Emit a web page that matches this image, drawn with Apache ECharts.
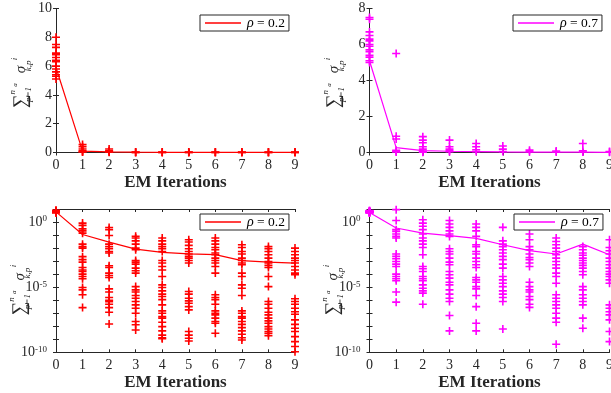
<!DOCTYPE html>
<html>
<head>
<meta charset="utf-8">
<script src="https://cdn.jsdelivr.net/npm/echarts@6/dist/echarts.min.js"></script>
<style>
  html, body { margin: 0; padding: 0; background: #fff; }
  #main { width: 611px; height: 393px; }
</style>
</head>
<body>
<div id="main"></div>
<script>
// EM iterations on the x axis
const iterations = [0, 1, 2, 3, 4, 5, 6, 7, 8, 9];

// top row, linear scale: one list of values per iteration
const linRed = [
  [8.0, 7.5, 7.3, 6.9, 6.8, 6.6, 6.4, 6.3, 6.0, 5.8, 5.6, 5.4, 5.3, 5.1],
  [0.55, 0.4, 0.24, 0.12, 0.06, 0.03],
  [0.24, 0.12, 0.06, 0.02],
  [0.03, 0.01, 0.005],
  [0.03, 0.01, 0.005],
  [0.03, 0.01, 0.005],
  [0.03, 0.01, 0.005],
  [0.03, 0.01, 0.005],
  [0.03, 0.01, 0.005],
  [0.03, 0.01, 0.005]
];
const linRedMean = [5.9, 0.1, 0.05, 0.02, 0.01, 0.01, 0.01, 0.005, 0.005, 0.005];

const linMag = [
  [7.5, 7.4, 6.7, 6.5, 6.3, 6.2, 6.0, 5.9, 5.7, 5.6, 5.4, 5.3, 5.1, 5.0],
  [5.5, 0.9, 0.75, 0.12, 0.06, 0.03],
  [0.88, 0.69, 0.54, 0.32, 0.19, 0.06, 0.02],
  [0.69, 0.32, 0.19, 0.1, 0.04],
  [0.5, 0.32, 0.15, 0.05],
  [0.36, 0.19, 0.05],
  [0.13, 0.04],
  [0.08, 0.03],
  [0.5, 0.1, 0.03],
  [0.05, 0.01]
];
const linMagMean = [5.1, 0.27, 0.1, 0.07, 0.05, 0.03, 0.02, 0.02, 0.02, 0.01];

// bottom row, log scale
const logRed = [
  [8.0, 7.5, 7.3, 6.9, 6.8, 6.6, 6.4, 6.3, 6.0, 5.8, 5.6, 5.4, 5.3, 5.1],
  [0.83, 0.55, 0.30, 0.21, 0.14, 2.0e-2, 1.3e-2, 1.0e-2, 2.2e-3, 1.3e-3, 8.3e-4, 3.2e-4, 2.1e-4, 1.6e-4, 1.0e-4, 6.6e-5, 4.4e-5, 9.3e-6, 6.2e-6, 2.6e-6, 2.7e-7],
  [0.38, 0.26, 9.3e-2, 2.0e-2, 1.3e-2, 8.9e-3, 5.5e-3, 4.2e-3, 4.4e-4, 3.2e-4, 1.2e-4, 7.8e-5, 5.5e-5, 7.4e-6, 4.2e-6, 1.6e-6, 1.0e-6, 7.8e-7, 4.9e-7, 2.7e-7, 1.2e-7, 1.5e-8],
  [8.0e-2, 5.9e-2, 3.6e-2, 2.0e-2, 1.0e-2, 7.4e-3, 1.1e-3, 8.3e-4, 5.9e-4, 2.9e-4, 1.8e-4, 1.2e-4, 1.1e-5, 6.2e-6, 4.2e-6, 2.3e-6, 1.4e-6, 7.9e-7, 4.4e-7, 2.4e-7, 1.0e-7, 2.3e-8, 1.3e-8, 5.2e-9],
  [5.9e-2, 3.6e-2, 2.0e-2, 1.3e-2, 8.9e-3, 5.5e-3, 1.1e-3, 7.1e-4, 3.9e-4, 2.1e-4, 6.6e-5, 1.5e-5, 9.3e-6, 5.2e-6, 2.9e-6, 1.9e-6, 1.1e-6, 4.4e-7, 1.5e-7, 1.0e-7, 5.5e-8, 4.2e-8, 2.0e-8, 9.3e-9, 4.4e-9, 2.1e-9, 1.3e-9, 1.1e-9],
  [4.4e-2, 2.9e-2, 1.6e-2, 8.9e-3, 5.5e-3, 3.5e-3, 2.3e-3, 1.7e-3, 1.1e-3, 7.1e-4, 4.7e-6, 2.9e-6, 1.4e-6, 8.9e-7, 5.9e-7, 3.2e-7, 1.8e-7, 3.9e-9, 2.1e-9, 1.2e-9, 7.4e-10],
  [5.9e-2, 3.6e-2, 2.0e-2, 1.1e-2, 7.4e-3, 4.2e-3, 3.1e-3, 1.7e-3, 1.1e-3, 7.1e-4, 3.9e-4, 1.2e-4, 2.6e-6, 1.6e-6, 1.1e-6, 4.9e-7, 1.5e-7, 1.0e-7, 7.4e-8, 4.2e-8, 2.3e-8, 1.7e-8, 2.9e-9],
  [1.8e-2, 1.1e-2, 5.5e-3, 3.5e-3, 1.7e-3, 1.1e-3, 7.1e-4, 5.2e-4, 1.2e-4, 6.6e-5, 1.5e-5, 8.3e-6, 2.3e-6, 1.5e-7, 1.0e-7, 5.5e-8, 4.2e-8, 2.3e-8, 1.4e-8, 7.9e-9, 4.4e-9, 2.4e-9, 1.3e-9, 8.9e-10],
  [1.3e-2, 8.9e-3, 5.5e-3, 3.1e-3, 1.7e-3, 9.3e-4, 7.1e-4, 4.7e-4, 3.2e-4, 6.6e-5, 1.1e-5, 7.9e-7, 4.9e-7, 2.4e-7, 1.2e-7, 7.4e-8, 4.2e-8, 2.6e-8, 1.7e-8, 9.3e-9, 6.2e-9, 3.9e-9, 2.9e-9, 1.9e-9],
  [1.0e-2, 5.5e-3, 3.1e-3, 1.7e-3, 1.1e-3, 7.1e-4, 3.9e-4, 2.1e-4, 1.2e-4, 8.9e-5, 1.3e-6, 7.9e-7, 4.9e-7, 2.4e-7, 1.3e-7, 8.3e-8, 3.1e-8, 1.4e-8, 7.1e-9, 3.9e-9, 1.6e-9, 6.6e-10, 2.8e-10, 1.1e-10]
];
const logRedMean = [6.0, 0.11, 2.9e-2, 8.3e-3, 4.7e-3, 3.6e-3, 3.1e-3, 1.1e-3, 8.3e-4, 7.1e-4];

const logMag = [
  [7.5, 7.4, 6.7, 6.5, 6.3, 6.2, 6.0, 5.9, 5.7, 5.6, 5.4, 5.3, 5.1, 5.0],
  [8.9, 1.3, 0.26, 0.19, 0.12, 7.9e-2, 5.9e-2, 3.5e-3, 2.3e-3, 1.5e-3, 9.3e-4, 5.9e-4, 3.9e-4, 1.0e-4, 6.6e-5, 4.4e-5, 3.1e-5, 4.2e-6, 7.1e-7],
  [1.5, 0.83, 0.47, 0.26, 0.12, 5.9e-2, 3.6e-2, 2.0e-2, 1.1e-2, 3.1e-3, 3.9e-4, 2.6e-4, 1.6e-4, 6.6e-5, 4.4e-5, 3.1e-5, 1.5e-5, 8.3e-6, 5.2e-6, 3.5e-6, 4.9e-7],
  [1.3, 0.71, 0.39, 0.21, 0.12, 7.9e-2, 8.9e-3, 5.5e-3, 3.5e-3, 1.7e-3, 8.3e-4, 5.2e-4, 1.6e-4, 8.9e-5, 4.9e-5, 2.4e-5, 1.5e-5, 6.2e-6, 2.9e-6, 1.4e-6, 7.9e-7, 6.6e-8, 4.4e-9],
  [0.71, 0.39, 0.21, 7.9e-2, 1.8e-2, 1.3e-2, 5.5e-3, 3.5e-3, 1.7e-3, 9.3e-4, 5.2e-4, 3.2e-4, 5.5e-5, 3.6e-5, 2.4e-5, 1.1e-5, 7.4e-6, 2.3e-6, 3.2e-7, 1.7e-8, 4.4e-9],
  [0.39, 3.6e-2, 2.0e-2, 1.3e-2, 7.4e-3, 4.2e-3, 2.3e-3, 1.3e-3, 5.9e-4, 2.9e-4, 6.6e-5, 3.6e-5, 2.0e-5, 1.1e-5, 5.2e-6, 2.9e-6, 1.6e-6, 7.9e-7, 6.2e-9],
  [0.12, 4.4e-2, 1.3e-2, 7.4e-3, 3.5e-3, 1.9e-3, 1.3e-3, 7.1e-4, 3.9e-4, 2.4e-5, 1.1e-5, 6.2e-6, 4.2e-6, 1.9e-6, 1.1e-6, 4.9e-7, 2.8e-7],
  [5.9e-2, 3.2e-2, 1.8e-2, 1.0e-2, 5.5e-3, 3.1e-3, 1.7e-3, 9.3e-4, 5.2e-4, 2.9e-4, 1.2e-4, 6.6e-5, 2.0e-5, 2.6e-6, 1.4e-6, 7.9e-7, 4.4e-7, 2.4e-7, 1.0e-7, 4.2e-8, 2.0e-8, 4.2e-10],
  [1.3e-2, 7.4e-3, 4.2e-3, 2.8e-3, 1.7e-3, 1.1e-3, 7.1e-4, 4.7e-4, 2.9e-4, 1.6e-4, 8.9e-5, 1.1e-5, 6.2e-6, 2.6e-6, 1.4e-6, 7.9e-7, 4.4e-7, 4.2e-8, 7.1e-9],
  [4.4e-2, 1.1e-2, 6.2e-3, 3.5e-3, 1.7e-3, 9.3e-4, 5.2e-4, 2.9e-4, 1.6e-4, 1.0e-4, 6.6e-5, 3.6e-5, 2.0e-5, 4.4e-7, 2.4e-7, 1.3e-7, 7.4e-8, 3.1e-8, 3.9e-9, 6.6e-10]
];
const logMagMean = [5.3, 0.35, 0.14, 8.9e-2, 5.5e-2, 1.8e-2, 6.3e-3, 3.5e-3, 2.0e-2, 3.1e-3];

const RED = '#ff0000';
const MAG = '#ff00ff';
const AX = '#262626';
const SERIF = "'Liberation Serif', 'DejaVu Serif', serif";
const PLUS = 'path://M4,0L4,8M0,4L8,4';

const myChart = echarts.init(document.getElementById('main'));

function points(lists) {
  const out = [];
  lists.forEach(function (vals, i) {
    vals.forEach(function (v) { out.push([iterations[i], v]); });
  });
  return out;
}

// sum_{p=1}^{n_a} sigma^i_{k,p}, limits stacked by giving the lower one zero width
const yName = '{s|∑}{l0|p=1}{u|n}{ua|a}  {g|σ}{l0|k,p}{u2|i}';
const yNameRich = {
  s: { fontSize: 19, fontFamily: SERIF, lineHeight: 26, verticalAlign: 'middle', color: AX },
  l0: { fontSize: 9, fontFamily: SERIF, fontStyle: 'italic', width: 0, verticalAlign: 'bottom', color: AX, padding: [0, 0, 1, 0] },
  u: { fontSize: 9, fontFamily: SERIF, fontStyle: 'italic', verticalAlign: 'top', color: AX },
  ua: { fontSize: 7, fontFamily: SERIF, fontStyle: 'italic', verticalAlign: 'top', width: 10, color: AX, padding: [4, 0, 0, 0] },
  g: { fontSize: 15, fontFamily: SERIF, fontStyle: 'italic', verticalAlign: 'middle', color: AX },
  u2: { fontSize: 9, fontFamily: SERIF, fontStyle: 'italic', verticalAlign: 'top', width: 12, color: AX, padding: [2, 0, 0, 1] }
};

const grids = [
  { left: 56, top: 8.5, width: 239, height: 144 },
  { left: 369.5, top: 8.5, width: 240, height: 144 },
  { left: 56, top: 209, width: 239, height: 143.3 },
  { left: 369.5, top: 209, width: 240, height: 143.3 }
].map(function (g) {
  return Object.assign(g, { containLabel: false, outerBoundsMode: 'none' });
});

const xAxes = [];
const yAxes = [];
grids.forEach(function (g, gi) {
  const xBase = {
    gridIndex: gi, type: 'value', min: 0, max: 9, interval: 1,
    axisLine: { lineStyle: { color: AX, width: 1 } },
    axisTick: { inside: true, length: 3, lineStyle: { color: AX } },
    splitLine: { show: false }
  };
  xAxes.push(Object.assign({}, xBase, {
    position: 'bottom',
    axisLabel: { color: AX, fontFamily: SERIF, fontSize: 14, margin: 6 },
    name: 'EM Iterations', nameLocation: 'middle', nameGap: 22, nameMoveOverlap: false,
    nameTextStyle: { color: AX, fontFamily: SERIF, fontSize: 17, fontWeight: 'bold' }
  }));
  xAxes.push(Object.assign({}, xBase, { position: 'top', axisLabel: { show: false } }));

  let yBase;
  if (gi < 2) {
    yBase = { type: 'value', min: 0, max: gi === 0 ? 10 : 8, interval: 2 };
  } else {
    yBase = { type: 'log', logBase: 10, min: 1e-10, max: 10, interval: 1 };
  }
  Object.assign(yBase, {
    gridIndex: gi,
    axisLine: { show: true, lineStyle: { color: AX, width: 1 } },
    axisTick: { show: true, inside: true, length: 3, lineStyle: { color: AX } },
    splitLine: { show: false }
  });
  const labelFmt = gi < 2
    ? function (v) { return String(v); }
    : function (v) {
        const e = Math.round(Math.log10(v));
        return e % 5 === 0 ? '{b|10}{e|' + e + '}' : '';
      };
  yAxes.push(Object.assign({}, yBase, {
    position: 'left',
    axisLabel: {
      color: AX, fontFamily: SERIF, fontSize: 14, margin: gi < 2 ? 4 : 9,
      formatter: labelFmt,
      rich: {
        b: { fontFamily: SERIF, fontSize: 14, color: AX, verticalAlign: 'bottom' },
        e: { fontFamily: SERIF, fontSize: 9, color: AX, verticalAlign: 'top', padding: [0, 0, 6, 0] }
      }
    },
    name: yName, nameLocation: 'middle', nameRotate: 90, nameGap: gi < 2 ? 22 : 23,
    nameMoveOverlap: false,
    nameTextStyle: { rich: yNameRich, padding: gi < 2 ? 0 : [0, 14, 0, 0] }
  }));
  yAxes.push(Object.assign({}, yBase, { position: 'right', axisLabel: { show: false } }));
});

function scatterSeries(gi, lists, color) {
  return {
    type: 'scatter', xAxisIndex: 2 * gi, yAxisIndex: 2 * gi,
    data: points(lists), symbol: PLUS, symbolSize: 8, clip: false, silent: true,
    itemStyle: { color: 'rgba(0,0,0,0)', borderColor: color, borderWidth: 1.6, opacity: 1 },
    z: 2
  };
}
function lineSeries(gi, name, mean, color) {
  return {
    type: 'line', name: name, xAxisIndex: 2 * gi, yAxisIndex: 2 * gi,
    data: iterations.map(function (x, i) { return [x, mean[i]]; }),
    symbol: 'none', silent: true,
    lineStyle: { color: color, width: 1.2 }, itemStyle: { color: color },
    z: 3
  };
}

function legendAt(left, top, name) {
  return {
    data: [{ name: name, icon: 'rect' }], left: left, top: top,
    orient: 'horizontal', itemWidth: 36, itemHeight: 1.5, itemGap: 4,
    padding: [1, 4, 1, 5], backgroundColor: '#fff',
    borderColor: AX, borderWidth: 1, selectedMode: false,
    formatter: function (n) { return '{i|ρ}' + n.slice(1).trimEnd(); },
    textStyle: {
      color: '#000', fontFamily: SERIF, fontSize: 13.5, padding: [0, 0, 0, 1],
      rich: { i: { fontFamily: SERIF, fontSize: 14, fontStyle: 'italic', color: '#000' } }
    }
  };
}

myChart.setOption({
  animation: false,
  backgroundColor: '#fff',
  grid: grids,
  xAxis: xAxes,
  yAxis: yAxes,
  legend: [
    legendAt(200, 15, 'ρ = 0.2'),
    legendAt(513, 15, 'ρ = 0.7'),
    legendAt(200, 214, 'ρ = 0.2 '),
    legendAt(514, 214, 'ρ = 0.7 ')
  ],
  series: [
    scatterSeries(0, linRed, RED),
    lineSeries(0, 'ρ = 0.2', linRedMean, RED),
    scatterSeries(1, linMag, MAG),
    lineSeries(1, 'ρ = 0.7', linMagMean, MAG),
    scatterSeries(2, logRed, RED),
    lineSeries(2, 'ρ = 0.2 ', logRedMean, RED),
    scatterSeries(3, logMag, MAG),
    lineSeries(3, 'ρ = 0.7 ', logMagMean, MAG)
  ]
});
</script>
</body>
</html>
